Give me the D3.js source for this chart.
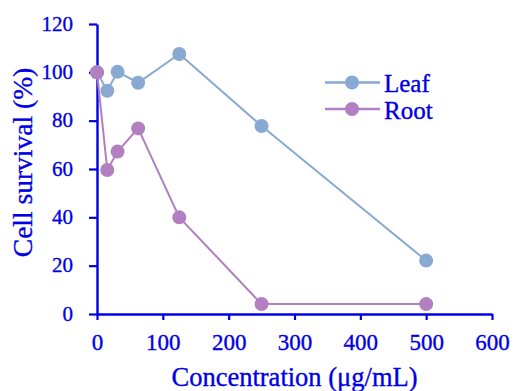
<!DOCTYPE html>
<html>
<head>
<meta charset="utf-8">
<script src="https://cdn.jsdelivr.net/npm/d3@7"></script>
<style>
  body { margin: 0; background: #fff; }
  svg text { font-family: "Liberation Serif", "DejaVu Serif", serif; fill: #0000e6; stroke: #0000e6; stroke-width: 0.35px; }
</style>
</head>
<body>
<svg width="514" height="391"></svg>
<script>
// data
let concentrations = [0, 15.625, 31.25, 62.5, 125, 250, 500];
let leafValues = [100, 92.4, 100.2, 95.7, 107.6, 77.8, 22.1];
let rootValues = [100, 59.6, 67.2, 76.8, 40, 4.1, 4.1];
let xTicks = [0, 100, 200, 300, 400, 500, 600];
let yTicks = [0, 20, 40, 60, 80, 100, 120];

let series = [
    { name: "Leaf", values: leafValues, color: "#88a9d1" },
    { name: "Root", values: rootValues, color: "#b27fc1" }
];

let svg = d3.select("svg");
let axisColor = "#0000e6";

let margin = { top: 24, left: 97, right: 22, bottom: 77 },
    width = 514 - margin.left - margin.right,
    height = 391 - margin.top - margin.bottom;

let x = d3.scaleLinear().domain([0, 600]).range([0, width]);
let y = d3.scaleLinear().domain([0, 120]).range([height, 0]);

let g = svg.append("g")
    .attr("transform", "translate(" + margin.left + "," + margin.top + ")");

// axes
let xAxis = g.append("g")
    .attr("transform", "translate(0," + height + ")")
    .call(d3.axisBottom(x).tickValues(xTicks).tickSize(6).tickSizeOuter(0));
let yAxis = g.append("g")
    .call(d3.axisLeft(y).tickValues(yTicks).tickSize(8).tickSizeOuter(0));

[xAxis, yAxis].forEach(a => {
    a.select(".domain").attr("stroke", axisColor).attr("stroke-width", 2.4);
    a.selectAll(".tick line").attr("stroke", axisColor).attr("stroke-width", 2.2);
    a.selectAll(".tick text")
        .style("font-family", "'Liberation Serif', serif")
        .attr("fill", axisColor);
});

xAxis.selectAll(".tick text")
    .style("font-size", "23px")
    .attr("y", 36)
    .attr("dy", 0);

yAxis.selectAll(".tick text")
    .style("font-size", "21px")
    .attr("x", -24)
    .attr("dy", "0.3em");

// lines and points
let line = d3.line()
    .x((d, i) => x(concentrations[i]))
    .y(d => y(d));

series.forEach(s => {
    g.append("path")
        .datum(s.values)
        .attr("fill", "none")
        .attr("stroke", s.color)
        .attr("stroke-width", 2)
        .attr("d", line);

    g.selectAll(".pt-" + s.name)
        .data(s.values)
        .enter()
        .append("circle")
        .attr("cx", (d, i) => x(concentrations[i]))
        .attr("cy", d => y(d))
        .attr("r", 7)
        .attr("fill", s.color);
});

// legend
let legend = svg.append("g").attr("transform", "translate(325,82.5)");
series.forEach((s, i) => {
    let row = legend.append("g").attr("transform", "translate(0," + i * 26.5 + ")");
    row.append("line")
        .attr("x1", 0).attr("x2", 55)
        .attr("stroke", s.color).attr("stroke-width", 2.5);
    row.append("circle")
        .attr("cx", 27).attr("r", 7).attr("fill", s.color);
    row.append("text")
        .attr("x", 59).attr("y", 9.5)
        .style("font-size", "25px")
        .text(s.name);
});

// axis titles
svg.append("text")
    .attr("x", margin.left + x(300))
    .attr("y", 386)
    .attr("text-anchor", "middle")
    .style("font-size", "26.5px")
    .text("Concentration (μg/mL)");

svg.append("text")
    .attr("transform", "translate(31.5,162.5) rotate(-90)")
    .attr("text-anchor", "middle")
    .style("font-size", "27.5px")
    .text("Cell survival (%)");
</script>
</body>
</html>
